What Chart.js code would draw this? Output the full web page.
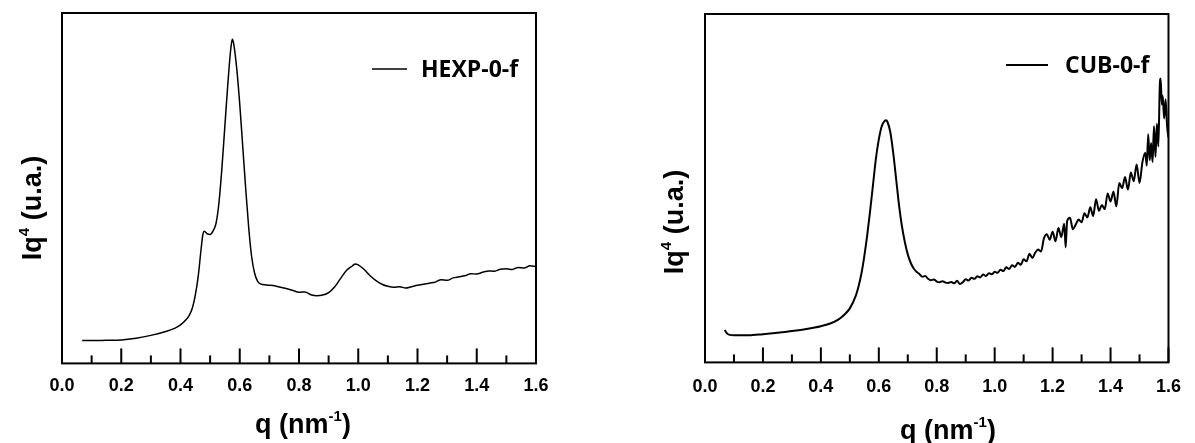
<!DOCTYPE html>
<html>
<head>
<meta charset="utf-8">
<script src="https://cdn.jsdelivr.net/npm/chart.js@4.4.0/dist/chart.umd.min.js"></script>
<style>
  html, body { margin: 0; padding: 0; background: #fff; }
  #wrap { position: relative; width: 1195px; height: 443px; }
  .box { position: absolute; top: 0; height: 443px; }
</style>
</head>
<body>
<div id="wrap">
  <div class="box" style="left:0;width:597px"><canvas id="hexp"></canvas></div>
  <div class="box" style="left:597px;width:598px"><canvas id="cub"></canvas></div>
</div>
<script>
// x axis ticks (major every 0.2, minor every 0.1)
const qTicks = [0.0, 0.1, 0.2, 0.3, 0.4, 0.5, 0.6, 0.7, 0.8, 0.9, 1.0, 1.1, 1.2, 1.3, 1.4, 1.5, 1.6];

// HEXP-0-f : q (nm-1) and Iq4 (arbitrary units, 0-100 of the frame height)
const qHexp = [0.068, 0.10, 0.15, 0.20, 0.25, 0.30, 0.35, 0.38, 0.40, 0.42, 0.43, 0.44, 0.45, 0.46, 0.47, 0.475,
  0.48, 0.49, 0.50, 0.51, 0.52, 0.53, 0.54, 0.55, 0.56, 0.57, 0.575, 0.58, 0.59, 0.60, 0.61, 0.62, 0.63, 0.64,
  0.65, 0.66, 0.67, 0.69, 0.72, 0.75, 0.78, 0.80, 0.82, 0.84, 0.86, 0.88, 0.90, 0.92, 0.94, 0.96, 0.98, 0.99,
  1.00, 1.02, 1.04, 1.06, 1.08, 1.10, 1.12, 1.14, 1.16, 1.18, 1.20, 1.22, 1.24, 1.26, 1.28, 1.30, 1.32, 1.34,
  1.36, 1.38, 1.40, 1.42, 1.44, 1.46, 1.48, 1.50, 1.52, 1.54, 1.56, 1.58, 1.60];
const iqHexp = [6.5, 6.5, 6.6, 6.7, 7.2, 8.0, 9.1, 10.0, 11.0, 12.6, 13.8, 15.8, 19.5, 25.0, 33.0, 36.5,
  37.7, 37.0, 36.8, 37.8, 40.0, 46.0, 56.0, 68.0, 80.0, 90.0, 92.5, 91.0, 84.0, 74.0, 62.0, 50.0, 39.0, 30.5,
  25.8, 23.5, 22.7, 22.4, 22.1, 21.5, 20.8, 20.3, 20.4, 19.6, 19.3, 19.5, 20.2, 21.8, 24.2, 26.5, 27.8, 28.4,
  28.1, 26.8, 25.0, 23.6, 22.6, 22.0, 21.7, 21.9, 21.5, 21.9, 22.3, 22.6, 22.9, 23.2, 23.9, 23.7, 24.4, 24.7,
  25.0, 25.6, 25.5, 26.0, 26.4, 26.3, 26.9, 27.0, 26.8, 27.4, 27.2, 27.9, 27.6];

// CUB-0-f
const qCub = [0.068, 0.075, 0.085, 0.10, 0.15, 0.20, 0.25, 0.30, 0.35, 0.40, 0.43, 0.46, 0.48, 0.50, 0.52, 0.53,
  0.54, 0.55, 0.56, 0.57, 0.58, 0.59, 0.60, 0.61, 0.62, 0.625, 0.63, 0.64, 0.65, 0.66, 0.67, 0.68, 0.69, 0.70,
  0.71, 0.72, 0.73, 0.74, 0.75, 0.76, 0.77, 0.78, 0.79, 0.80, 0.81, 0.82, 0.83, 0.84, 0.85, 0.86, 0.87, 0.88,
  0.89, 0.90, 0.91, 0.92, 0.93, 0.94, 0.95, 0.96, 0.97, 0.98, 0.99, 1.00, 1.01, 1.02, 1.03, 1.04, 1.05, 1.06,
  1.07, 1.08, 1.09, 1.10, 1.11, 1.12, 1.13, 1.14, 1.15, 1.16, 1.17, 1.18, 1.19, 1.20, 1.21, 1.22, 1.23, 1.24,
  1.245, 1.25, 1.26, 1.27, 1.28, 1.29, 1.30, 1.31, 1.32, 1.33, 1.34, 1.35, 1.36, 1.37, 1.38, 1.39, 1.40, 1.41,
  1.42, 1.43, 1.44, 1.45, 1.46, 1.47, 1.48, 1.49, 1.50, 1.51, 1.52, 1.525, 1.53, 1.535, 1.54, 1.545, 1.55, 1.555,
  1.56, 1.565, 1.57, 1.573, 1.577, 1.58, 1.585, 1.59, 1.595, 1.60];
const iqCub = [9.3, 8.4, 7.9, 7.8, 7.8, 8.1, 8.5, 9.0, 9.6, 10.4, 11.1, 12.3, 13.6, 15.5, 19.0, 21.8,
  25.5, 30.5, 36.5, 43.5, 51.0, 58.5, 64.0, 67.8, 69.3, 69.5, 69.0, 66.0, 60.0, 52.5, 45.0, 39.0, 34.5, 31.0,
  28.6, 27.0, 26.0, 25.4, 24.6, 24.8, 24.0, 23.6, 23.8, 23.2, 23.0, 23.3, 22.9, 22.8, 23.1, 22.7, 23.4, 22.5,
  23.0, 23.9, 23.5, 24.3, 24.0, 24.7, 24.4, 25.2, 24.8, 25.6, 25.3, 26.0, 25.7, 26.6, 26.2, 27.3, 26.8, 27.9,
  27.4, 28.6, 28.0, 29.6, 29.0, 31.2, 30.0, 31.5, 32.4, 31.8, 35.6, 36.8, 35.2, 37.5, 34.8, 38.6, 36.0, 39.8,
  33.0, 40.5, 41.5, 38.2, 39.6, 41.0, 40.2, 42.8, 41.6, 44.5, 42.0, 46.8, 43.5, 45.2, 44.0, 48.5, 46.2, 49.0,
  44.8, 51.5, 50.0, 53.2, 49.6, 54.5, 52.0, 56.8, 51.5, 57.5, 60.2, 56.5, 65.5, 58.0, 63.0, 57.5, 67.8, 59.0,
  68.5, 62.0, 79.5, 81.5, 74.0, 76.5, 70.0, 75.5, 68.0, 64.5];

const xTitle = [{ t: 'q (nm' }, { t: '-1', sup: true }, { t: ')' }];
const yTitle = [{ t: 'Iq' }, { t: '4', sup: true }, { t: ' (u.a.)' }];

function pts(xs, ys) {
  return xs.map((x, i) => ({ x: x, y: ys[i] }));
}

function drawParts(ctx, parts, cx, baseY) {
  const big = 'bold 27px "Liberation Sans", Arial, sans-serif';
  const small = 'bold 15px "Liberation Sans", Arial, sans-serif';
  let w = 0;
  parts.forEach(p => { ctx.font = p.sup ? small : big; w += ctx.measureText(p.t).width; });
  let x = cx - w / 2;
  ctx.textAlign = 'left';
  ctx.textBaseline = 'alphabetic';
  parts.forEach(p => {
    ctx.font = p.sup ? small : big;
    ctx.fillText(p.t, x, p.sup ? baseY - 12 : baseY);
    x += ctx.measureText(p.t).width;
  });
}

const frame = {
  id: 'frame',
  afterDraw(chart, args, o) {
    const { ctx, chartArea: a } = chart;
    const x = chart.scales.x;
    ctx.save();
    ctx.strokeStyle = '#000';
    ctx.fillStyle = '#000';
    ctx.lineWidth = 2;
    ctx.strokeRect(a.left, a.top, a.right - a.left, a.bottom - a.top);
    qTicks.forEach((v, i) => {
      const px = x.getPixelForValue(v);
      const len = i % 2 === 0 ? 15 : 8;
      ctx.beginPath();
      ctx.moveTo(px, a.bottom);
      ctx.lineTo(px, a.bottom - len);
      ctx.stroke();
    });

    // legend inside the frame
    const ds = chart.data.datasets[0];
    ctx.lineWidth = ds.borderWidth;
    ctx.beginPath();
    ctx.moveTo(o.legX, o.legY);
    ctx.lineTo(o.legX + o.legLen, o.legY);
    ctx.stroke();
    ctx.font = 'bold 23px "Open Sans", sans-serif';
    ctx.textAlign = 'left';
    ctx.textBaseline = 'middle';
    ctx.fillText(ds.label, o.legText, o.legY + 1);

    // axis titles
    drawParts(ctx, xTitle, o.xtX, o.xtY);
    ctx.translate(o.ytX, o.ytY);
    ctx.rotate(-Math.PI / 2);
    drawParts(ctx, yTitle, 0, 0);
    ctx.restore();
  }
};

function makeChart(id, label, xs, ys, lw, pad, tickPad, f) {
  return new Chart(document.getElementById(id), {
    type: 'line',
    data: {
      datasets: [{
        label: label,
        data: pts(xs, ys),
        borderColor: '#000',
        backgroundColor: '#000',
        borderWidth: lw,
        pointRadius: 0,
        cubicInterpolationMode: 'monotone'
      }]
    },
    options: {
      responsive: true,
      maintainAspectRatio: false,
      animation: false,
      layout: { padding: pad },
      plugins: {
        legend: { display: false },
        tooltip: { enabled: false },
        frame: f
      },
      scales: {
        x: {
          type: 'linear',
          min: 0,
          max: 1.6,
          grid: { display: false, drawTicks: false },
          border: { display: false },
          ticks: {
            stepSize: 0.2,
            padding: tickPad,
            color: '#000',
            maxRotation: 0,
            font: { family: '"Liberation Sans", Arial, sans-serif', size: 18, weight: 'bold' },
            callback: v => v.toFixed(1)
          }
        },
        y: { display: false, min: 0, max: 100 }
      }
    },
    plugins: [frame]
  });
}

makeChart('hexp', 'HEXP-0-f', qHexp, iqHexp, 1.5,
  { left: 62, top: 13, right: 61, bottom: 34 }, 12,
  { legX: 372, legY: 69, legLen: 35, legText: 421, xtX: 303, xtY: 433, ytX: 41, ytY: 208 });

makeChart('cub', 'CUB-0-f', qCub, iqCub, 2,
  { left: 108, top: 14, right: 15, bottom: 31 }, 14,
  { legX: 409, legY: 65, legLen: 42, legText: 468, xtX: 351, xtY: 439, ytX: 86, ytY: 222 });
</script>
</body>
</html>
